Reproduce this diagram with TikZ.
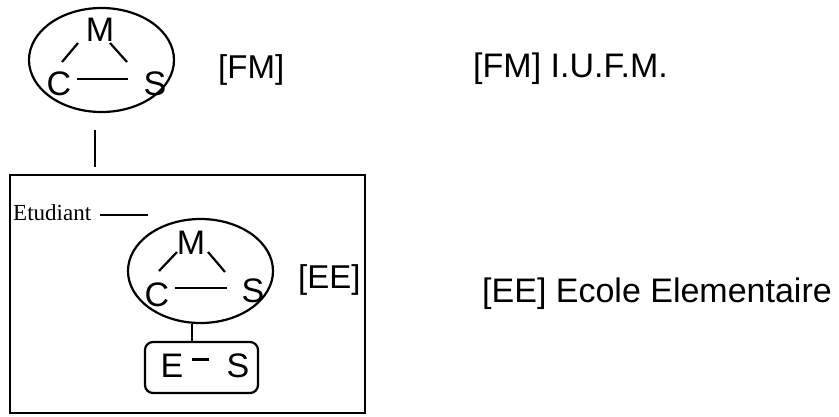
\documentclass[tikz,border=0pt]{standalone}
\usepackage{fontspec}
\setmainfont{Liberation Sans}
\newfontfamily\serifface{Liberation Serif}
\usetikzlibrary{shapes.geometric}
\begin{document}
\begin{tikzpicture}[x=1pt,y=-1pt,
  lbl/.style={font=\fontsize{34}{34}\selectfont, inner sep=0pt},
  tag/.style={font=\fontsize{33}{33}\selectfont, inner sep=0pt, anchor=base west},
  rtext/.style={font=\fontsize{34}{34}\selectfont, inner sep=0pt, anchor=base west},
  ln/.style={line width=2.2pt},
  ell/.style={draw, ellipse, line width=2.2pt, minimum width=145, minimum height=104, inner sep=0pt},
  frame/.style={draw, rectangle, line width=2pt, inner sep=0pt},
  esbox/.style={draw, rectangle, rounded corners=8pt, line width=2.2pt, inner sep=0pt, minimum width=113, minimum height=51}]
\useasboundingbox (0,0) rectangle (839,416);

% outer frame
\node[frame, minimum width=355, minimum height=238] (frm) at (187.5,294) {};

% top ellipse (FM)
\node[ell] (ell1) at (101.5,60) {};
\node[lbl] (M1) at (100,30) {M};
\node[lbl] (C1) at (59,84) {C};
\node[lbl] (S1) at (155,84) {S};
\coordinate (cm1a) at (62,62);  \coordinate (cm1b) at (78,43);
\coordinate (ms1a) at (110,43); \coordinate (ms1b) at (127,62);
\coordinate (cs1a) at (77,79);  \coordinate (cs1b) at (128,79);
\draw[ln] (cm1a) -- (cm1b);
\draw[ln] (ms1a) -- (ms1b);
\draw[ln] (cs1a) -- (cs1b);
\node[tag] (FM) at (218,78) {[FM]};

% link between top and frame
\coordinate (lk1) at (95,130); \coordinate (lk2) at (95,167);
\draw[ln] (lk1) -- (lk2);

% Etudiant
\node[font=\serifface\fontsize{23}{23}\selectfont, inner sep=0pt, anchor=base west] (etu) at (13,220) {Etudiant};
\coordinate (et1) at (100,215); \coordinate (et2) at (148,215);
\draw[ln] (et1) -- (et2);

% inner ellipse (EE)
\node[ell] (ell2) at (200.5,271) {};
\node[lbl] (M2) at (191,243) {M};
\node[lbl] (C2) at (157,295) {C};
\node[lbl] (S2) at (253,291) {S};
\coordinate (cm2a) at (159,271); \coordinate (cm2b) at (177,252);
\coordinate (ms2a) at (208,252); \coordinate (ms2b) at (225,272);
\coordinate (cs2a) at (175,288); \coordinate (cs2b) at (227,288);
\draw[ln] (cm2a) -- (cm2b);
\draw[ln] (ms2a) -- (ms2b);
\draw[ln] (cs2a) -- (cs2b);
\node[tag] (EE) at (298,288) {[EE]};

% E - S box
\node[esbox] (esb) at (201.5,367.5) {};
\coordinate (c1) at (192,324); \coordinate (c2) at (192,342);
\draw[ln] (c1) -- (c2);
\node[lbl] (E3) at (172,366) {E};
\node[lbl] (S3) at (238,366) {S};
\coordinate (d1) at (192,359); \coordinate (d2) at (209,359);
\draw[line width=3pt] (d1) -- (d2);

% right legend
\node[rtext] (leg1) at (473,77) {[FM] I.U.F.M.};
\node[rtext] (leg2) at (482,302) {[EE] Ecole Elementaire};
\end{tikzpicture}
\end{document}
